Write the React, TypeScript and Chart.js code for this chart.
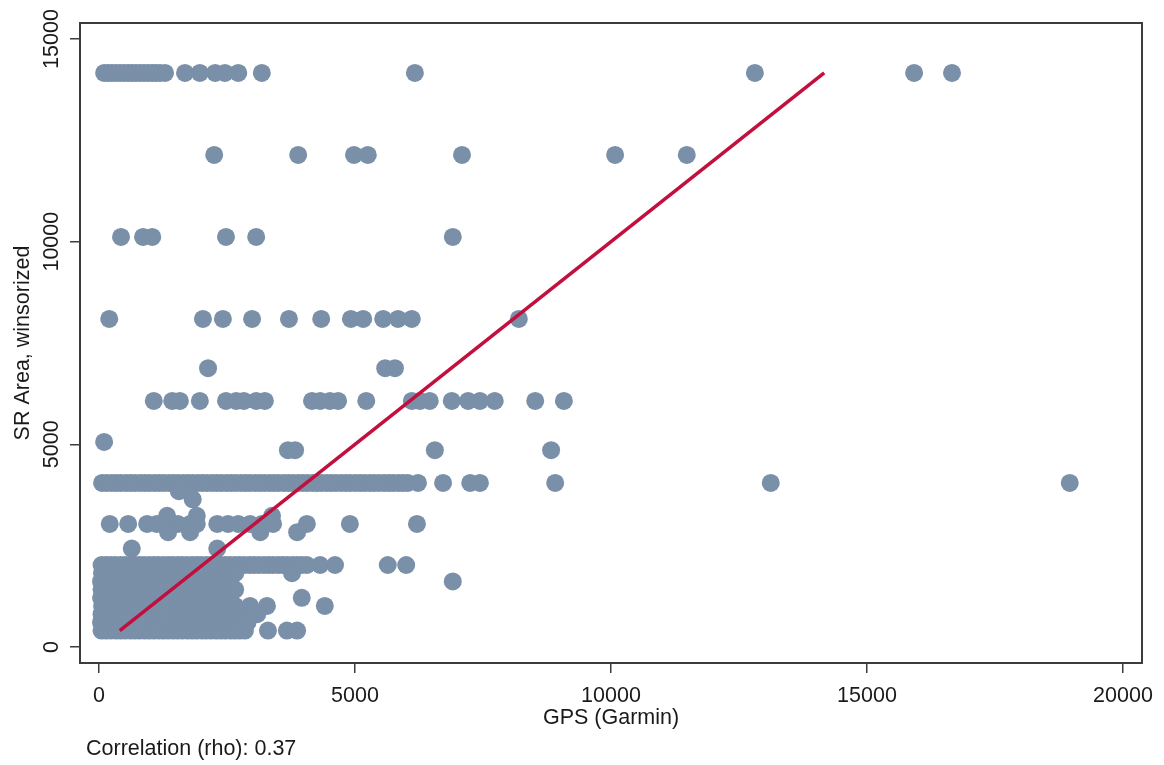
import React, { useEffect, useRef } from 'react';
import { Chart, registerables } from 'chart.js';

Chart.register(...registerables);

// ---- Data (SR area levels in m², GPS readings per level) ----
const xTicks = [0, 5000, 10000, 15000, 20000];
const yTicks = [0, 5000, 10000, 15000];

const gpsAt14164 = [100, 180, 250, 330, 410, 490, 570, 640, 720, 800, 880, 960, 1040, 1110, 1190, 1290, 1680, 1970, 2270, 2460, 2720, 3180, 6170, 12810, 15920, 16660];
const gpsAt12141 = [2250, 3890, 4980, 5250, 7090, 10080, 11480];
const gpsAt10117 = [430, 860, 1040, 2480, 3070, 6910];
const gpsAt8094 = [200, 2030, 2420, 2990, 3710, 4340, 4920, 5160, 5550, 5840, 6110, 8200];
const gpsAt6880 = [2130, 5590, 5780];
const gpsAt6070 = [1070, 1430, 1580, 1970, 2480, 2680, 2830, 3070, 3240, 4160, 4320, 4510, 4670, 5220, 6110, 6270, 6460, 6890, 7210, 7440, 7730, 8520, 9080];
const gpsAt5059 = [100];
const gpsAt4856 = [3690, 3830, 6560, 8830];
const gpsAt4047 = [60, 150, 250, 340, 430, 530, 620, 710, 810, 900, 990, 1090, 1180, 1270, 1370, 1460, 1550, 1650, 1740, 1830, 1930, 2020, 2110, 2210, 2300, 2390, 2490, 2580, 2670, 2770, 2860, 2950, 3050, 3140, 3230, 3330, 3420, 3510, 3610, 3700, 3790, 3890, 3980, 4070, 4170, 4260, 4350, 4450, 4540, 4630, 4730, 4820, 4910, 5010, 5100, 5190, 5290, 5380, 5470, 5570, 5660, 5750, 5850, 5940, 6030, 6230, 6720, 7250, 7440, 8910, 13120, 18960];
const gpsAt3845 = [1560];
const gpsAt3642 = [1830];
const gpsAt3238 = [1330, 1910, 3380];
const gpsAt3035 = [210, 570, 940, 1130, 1330, 1540, 1780, 1910, 2310, 2520, 2720, 2950, 3180, 3400, 4060, 4900, 6210];
const gpsAt2833 = [1350, 1780, 3150, 3870];
const gpsAt2428 = [640, 2310];
const gpsAt2023 = [50, 140, 230, 320, 420, 510, 600, 700, 790, 880, 980, 1070, 1160, 1260, 1350, 1440, 1540, 1630, 1720, 1820, 1910, 2000, 2100, 2190, 2280, 2380, 2470, 2560, 2660, 2750, 2840, 2940, 3030, 3120, 3220, 3310, 3400, 3500, 3590, 3680, 3780, 3870, 3960, 4060, 4320, 4610, 5640, 6000];
const gpsAt1821 = [60, 150, 240, 340, 430, 520, 620, 710, 800, 900, 990, 1080, 1180, 1270, 1360, 1460, 1550, 1640, 1740, 1830, 1920, 2020, 2110, 2200, 2300, 2390, 2480, 2580, 2660, 3770];
const gpsAt1618 = [40, 130, 220, 310, 410, 500, 590, 690, 780, 870, 970, 1060, 1150, 1250, 1340, 1430, 1530, 1620, 1710, 1810, 1900, 1990, 2090, 2180, 2270, 2370, 2460, 2560, 6910];
const gpsAt1416 = [50, 140, 230, 330, 420, 510, 610, 700, 790, 890, 980, 1070, 1170, 1260, 1350, 1450, 1540, 1630, 1730, 1820, 2020, 2120, 2210, 2300, 2400, 2490, 2580, 2660];
const gpsAt1214 = [40, 130, 230, 320, 410, 510, 600, 690, 790, 880, 970, 1070, 1160, 1250, 1350, 1440, 1530, 1630, 1720, 1810, 1910, 2000, 2090, 2190, 2280, 2370, 2470, 2560, 3960];
const gpsAt1012 = [60, 150, 250, 340, 430, 530, 620, 710, 810, 900, 990, 1090, 1180, 1270, 1370, 1460, 1550, 1650, 1740, 1830, 1930, 2020, 2110, 2210, 2300, 2390, 2490, 2580, 2660, 2950, 3280, 4410];
const gpsAt809 = [50, 140, 240, 330, 420, 520, 610, 700, 800, 890, 980, 1080, 1170, 1260, 1540, 1640, 1730, 1820, 1920, 2010, 2100, 2200, 2290, 2380, 2480, 2570, 2660, 2750, 3090];
const gpsAt607 = [40, 130, 220, 320, 410, 500, 600, 690, 780, 880, 970, 1060, 1160, 1250, 1500, 1590, 1690, 1780, 1870, 1970, 2060, 2150, 2250, 2340, 2430, 2530, 2620, 2710, 2810, 2900];
const gpsAt405 = [50, 140, 230, 330, 420, 510, 610, 700, 790, 890, 980, 1070, 1170, 1260, 1350, 1450, 1540, 1630, 1730, 1820, 1910, 2010, 2100, 2190, 2290, 2380, 2470, 2570, 2660, 2750, 2850, 3300, 3670, 3870];

const srRows: [number, number[]][] = [
  [14164, gpsAt14164], [12141, gpsAt12141], [10117, gpsAt10117], [8094, gpsAt8094],
  [6880, gpsAt6880], [6070, gpsAt6070], [5059, gpsAt5059], [4856, gpsAt4856],
  [4047, gpsAt4047], [3845, gpsAt3845], [3642, gpsAt3642], [3238, gpsAt3238],
  [3035, gpsAt3035], [2833, gpsAt2833], [2428, gpsAt2428], [2023, gpsAt2023],
  [1821, gpsAt1821], [1618, gpsAt1618], [1416, gpsAt1416], [1214, gpsAt1214],
  [1012, gpsAt1012], [809, gpsAt809], [607, gpsAt607], [405, gpsAt405],
];

// 45-degree reference line from min to max SR area
const lineX = [405, 14164];
const lineY = [405, 14164];

const xTitle = 'GPS (Garmin)';
const yTitle = 'SR Area, winsorized';
const note = 'Correlation (rho): 0.37';

const FONT = '"Liberation Sans", Arial, Helvetica, sans-serif';
const TEXT = '#1a1a1a';
const AXIS = '#3c3c3c';
const DOT = 'rgb(122,143,168)';
const LINE = '#c20f3e';

export default function App() {
  const ref = useRef<HTMLCanvasElement | null>(null);

  useEffect(() => {
    if (!ref.current) return;
    const points: { x: number; y: number }[] = [];
    srRows.forEach(([y, xs]) => xs.forEach((x) => points.push({ x, y })));
    const linePts = lineX.map((x, i) => ({ x, y: lineY[i] }));

    const decor = {
      id: 'decor',
      afterDraw(chart: any) {
        const { ctx, chartArea } = chart;
        const xs = chart.scales.x;
        const ys = chart.scales.y;
        ctx.save();
        ctx.strokeStyle = AXIS;
        ctx.lineWidth = 2;
        ctx.strokeRect(chartArea.left, chartArea.top, chartArea.right - chartArea.left, chartArea.bottom - chartArea.top);
        ctx.fillStyle = TEXT;
        ctx.font = `21.5px ${FONT}`;
        ctx.textAlign = 'center';
        ctx.textBaseline = 'alphabetic';
        xTicks.forEach((v) => {
          ctx.fillText(String(v), xs.getPixelForValue(v), 702);
        });
        yTicks.forEach((v) => {
          ctx.save();
          ctx.translate(58, ys.getPixelForValue(v));
          ctx.rotate(-Math.PI / 2);
          ctx.fillText(String(v), 0, 0);
          ctx.restore();
        });
        ctx.fillText(xTitle, (chartArea.left + chartArea.right) / 2, 724);
        ctx.save();
        ctx.translate(29, (chartArea.top + chartArea.bottom) / 2);
        ctx.rotate(-Math.PI / 2);
        ctx.fillText(yTitle, 0, 0);
        ctx.restore();
        ctx.textAlign = 'left';
        ctx.fillText(note, 86, 755);
        ctx.restore();
      },
    };

    const chart = new Chart(ref.current, {
      type: 'scatter',
      data: {
        datasets: [
          {
            type: 'line',
            data: linePts,
            borderColor: LINE,
            borderWidth: 3.5,
            pointRadius: 0,
            fill: false,
            order: 0,
          } as any,
          {
            type: 'scatter',
            data: points,
            backgroundColor: DOT,
            borderWidth: 0,
            pointRadius: 9,
            pointHoverRadius: 9,
            order: 1,
          },
        ],
      },
      options: {
        responsive: false,
        animation: false,
        events: [],
        layout: { padding: { left: 0, top: 23, right: 22, bottom: 0 } },
        plugins: { legend: { display: false }, tooltip: { enabled: false } },
        scales: {
          x: {
            type: 'linear',
            min: -371,
            max: 20371,
            afterBuildTicks: (s: any) => {
              s.ticks = xTicks.map((v) => ({ value: v }));
            },
            afterFit: (s: any) => {
              s.height = 102;
            },
            ticks: { display: false },
            grid: { drawOnChartArea: false, drawTicks: true, tickLength: 10, color: AXIS, lineWidth: 1.5 },
            border: { display: false },
          },
          y: {
            type: 'linear',
            min: -395,
            max: 15395,
            afterBuildTicks: (s: any) => {
              s.ticks = yTicks.map((v) => ({ value: v }));
            },
            afterFit: (s: any) => {
              s.width = 80;
            },
            ticks: { display: false },
            grid: { drawOnChartArea: false, drawTicks: true, tickLength: 10, color: AXIS, lineWidth: 1.5 },
            border: { display: false },
          },
        },
      } as any,
      plugins: [decor],
    });
    return () => chart.destroy();
  }, []);

  return (
    <div style={{ position: 'absolute', left: 0, top: 0, width: 1164, height: 765, background: '#fff' }}>
      <canvas ref={ref} width={1164} height={765} style={{ display: 'block' }} />
    </div>
  );
}
